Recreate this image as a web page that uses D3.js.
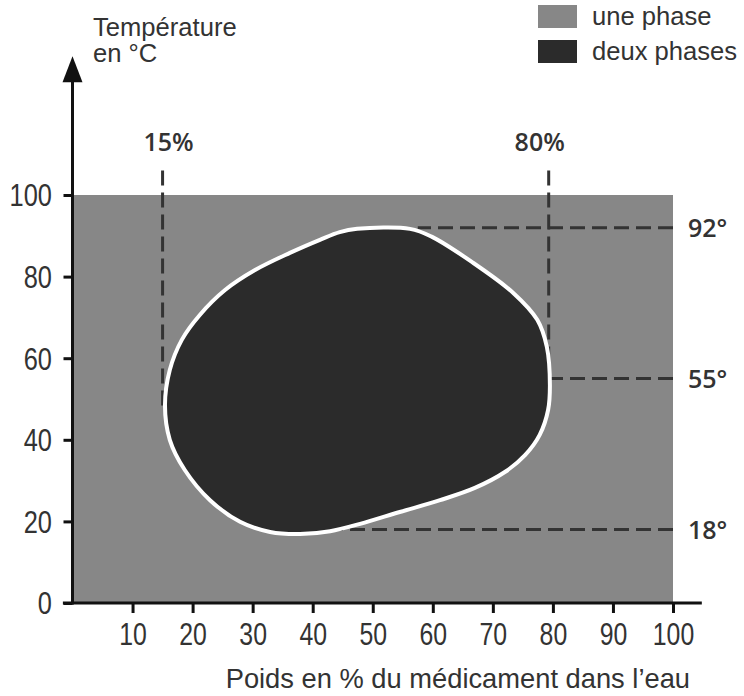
<!DOCTYPE html>
<html><head><meta charset="utf-8">
<script src="https://cdn.jsdelivr.net/npm/d3@7"></script>
<style>
body{margin:0;background:#fff;}
svg{display:block;}
text{fill:#333;}
</style></head>
<body>
<svg id="chart" width="744" height="696"></svg>
<script>
// ---- data ----
const xTicks = [10,20,30,40,50,60,70,80,90,100];
const yTicks = [0,20,40,60,80,100];
const legendLabels = ["une phase","deux phases"];
const legendColors = ["#878787","#2b2b2b"];
// two-phase region outline (x = % weight, y = °C)
const blobX = [47.4,56.2,59.8,66.5,73.4,77.4,79.0,79.5,79.2,77.8,75.4,72.0,67.0,61.2,54.5,47.9,42.9,37.9,32.9,27.9,22.9,18.7,16.2,15.4,16.2,18.2,21.2,25.4,30.4,36.2,41.2,44.5];
const blobY = [91.7,91.7,89.8,83.6,76.0,69.4,62.7,53.4,47.3,41.2,36.3,32.1,28.2,25.2,22.3,19.4,17.6,16.9,17.4,19.9,25.2,32.6,40.0,48.5,57.1,64.5,70.6,76.7,81.6,85.8,89.0,90.9];
// reference lines
const vLineX = [15, 79.3];
const vLineLabels = ["15%","80%"];
const vLineBottom = [48, 55];
const hLineY = [92, 55, 18];
const hLineLabels = ["92°","55°","18°"];
const hLineStart = [57.5, 79.5, 44];

const svg = d3.select("#chart");
const x = d3.scaleLinear().domain([0,100]).range([72.5,673]);
const y = d3.scaleLinear().domain([0,100]).range([603,195]);

// one-phase region
svg.append("rect")
  .attr("x", x(0)).attr("y", y(100))
  .attr("width", x(100)-x(0)).attr("height", y(0)-y(100))
  .attr("fill", legendColors[0]);

// dashed reference lines
const dashG = svg.append("g").attr("stroke","#333").attr("stroke-width",3)
  .attr("stroke-dasharray","15,7").attr("fill","none");
vLineX.forEach((v,i)=>{
  dashG.append("line").attr("x1",x(v)).attr("x2",x(v))
    .attr("y1",y(106)).attr("y2",y(vLineBottom[i]));
});
hLineY.forEach((v,i)=>{
  dashG.append("line").attr("x1",x(100)).attr("x2",x(hLineStart[i]))
    .attr("y1",y(v)).attr("y2",y(v));
});

// two-phase region
const pts = blobX.map((d,i)=>[x(d), y(blobY[i])]);
svg.append("path")
  .attr("d", d3.line().curve(d3.curveCatmullRomClosed.alpha(0.5))(pts))
  .attr("fill", legendColors[1]).attr("stroke","#fff").attr("stroke-width",4);

// axes
const fontNum = "'Liberation Sans',Arial,sans-serif";
const xAxis = svg.append("g").attr("transform",`translate(0,${y(0)})`)
  .call(d3.axisBottom(x).tickValues(xTicks).tickSize(10).tickPadding(10));
xAxis.select(".domain").remove();
xAxis.selectAll(".tick line").attr("stroke","#111").attr("stroke-width",3);
xAxis.selectAll(".tick text").attr("font-family",fontNum).attr("font-size",31)
  .attr("fill","#333").attr("dy","0.72em").attr("transform","scale(0.8,1)");

const yAxis = svg.append("g").attr("transform",`translate(${x(0)},0)`)
  .call(d3.axisLeft(y).tickValues(yTicks).tickSize(9).tickPadding(16));
yAxis.select(".domain").remove();
yAxis.selectAll(".tick line").attr("stroke","#111").attr("stroke-width",3);
yAxis.selectAll(".tick text").attr("font-family",fontNum).attr("font-size",31)
  .attr("fill","#333").attr("dy","0.35em").attr("transform","scale(0.82,1)");

// axis lines
svg.append("line").attr("x1",x(-1.6)).attr("x2",x(104.8)).attr("y1",y(0)).attr("y2",y(0))
  .attr("stroke","#111").attr("stroke-width",3);
svg.append("line").attr("x1",x(0)).attr("x2",x(0)).attr("y1",y(0)+1.5).attr("y2",y(131))
  .attr("stroke","#111").attr("stroke-width",3);
const tipY = y(134);
svg.append("path")
  .attr("d",`M${x(0)},${tipY} L${x(0)-10},${tipY+26} L${x(0)+10},${tipY+26} Z`)
  .attr("fill","#111");

// axis titles
const fontReg = "'Liberation Sans',Arial,sans-serif";
svg.append("text").attr("x",93).attr("y",36).attr("font-family",fontReg).attr("font-size",25.6)
  .text("Température");
svg.append("text").attr("x",93).attr("y",62).attr("font-family",fontReg).attr("font-size",25.6)
  .text("en °C");
svg.append("text").attr("x",x(100)+17).attr("y",688).attr("text-anchor","end")
  .attr("font-family",fontReg).attr("font-size",27.3).text("Poids en % du médicament dans l’eau");

// reference labels
const fontLab = "'Open Sans','Liberation Sans',sans-serif";
vLineX.forEach((v,i)=>{
  svg.append("text").attr("x",x(v)+(i?-9:6)).attr("y",151).attr("text-anchor","middle")
    .attr("font-family",fontLab).attr("font-weight",600).attr("font-size",25)
    .text(vLineLabels[i]);
});
hLineY.forEach((v,i)=>{
  svg.append("text").attr("x",x(100)+15).attr("y",y(v)).attr("dy","0.36em")
    .attr("font-family",fontLab).attr("font-weight",600).attr("font-size",25)
    .text(hLineLabels[i]);
});

// legend
legendLabels.forEach((l,i)=>{
  const gy = 5 + i*35;
  svg.append("rect").attr("x",538).attr("y",gy).attr("width",39).attr("height",23)
    .attr("fill",legendColors[i]);
  svg.append("text").attr("x",592).attr("y",gy+20).attr("font-family",fontReg)
    .attr("font-size",25.6).text(l);
});
</script>
</body></html>
